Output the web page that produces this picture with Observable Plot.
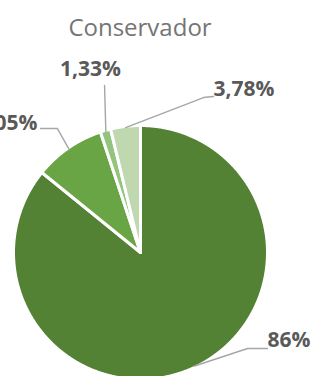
<!DOCTYPE html>
<html><head><meta charset="utf-8">
<script src="https://cdn.jsdelivr.net/npm/d3@7"></script>
<script src="https://cdn.jsdelivr.net/npm/@observablehq/plot@0.6"></script>
<style>
html,body{margin:0;padding:0;background:#fff;width:318px;height:376px;overflow:hidden;}
#title{box-sizing:border-box;height:44px;width:280px;padding-top:15px;line-height:23px;text-align:center;font-family:"Open Sans",sans-serif;font-size:24px;color:#757575;}
</style></head>
<body>
<div id="title">Conservador</div>
<div id="chart"></div>
<script>
// data
const categories = ["A", "B", "C", "D"];
const values = [85.84, 9.05, 1.33, 3.78];
const labels = ["86%", "9,05%", "1,33%", "3,78%"];
const colors = ["#548235", "#6aa545", "#93c47d", "#bfd8b0"];
// label layout (unit-circle coords): elbow, end, text position, anchor
const labelLayout = [
  {elbow: [0.843, -0.756], end: [1.0, -0.756], text: [1.0, -0.69], anchor: "start"},
  {elbow: [-0.654, 0.976], end: [-0.787, 0.976], text: [-0.811, 1.02], anchor: "end"},
  {elbow: [-0.283, 1.315], end: [-0.283, 1.315], text: [-0.394, 1.44], anchor: "middle"},
  {elbow: [0.496, 1.22], end: [0.575, 1.228], text: [0.575, 1.283], anchor: "start"}
];

const arcs = d3.pie().sort(null).startAngle(0).endAngle(2 * Math.PI)(values);
const slicePts = [];
arcs.forEach((a, i) => {
  slicePts.push({cat: categories[i], x: 0, y: 0});
  const n = Math.max(2, Math.ceil((a.endAngle - a.startAngle) / 0.005));
  for (let k = 0; k <= n; k++) {
    const t = a.startAngle + (a.endAngle - a.startAngle) * k / n;
    slicePts.push({cat: categories[i], x: Math.sin(t), y: Math.cos(t)});
  }
});
const leaderPts = [];
const labelRows = [];
arcs.forEach((a, i) => {
  const m = (a.startAngle + a.endAngle) / 2;
  const L = labelLayout[i];
  leaderPts.push({k: i, x: Math.sin(m) * 0.99, y: Math.cos(m) * 0.99});
  leaderPts.push({k: i, x: L.elbow[0], y: L.elbow[1]});
  leaderPts.push({k: i, x: L.end[0], y: L.end[1]});
  labelRows.push({text: labels[i], x: L.text[0], y: L.text[1], anchor: L.anchor});
});

const textMark = (anchor) => Plot.text(labelRows.filter(d => d.anchor === anchor), {
  x: "x", y: "y", text: "text", textAnchor: anchor, lineAnchor: "middle",
  fill: "#595959", fontSize: 21, fontWeight: "bold", fontFamily: "Open Sans"
});

const cy = 208;
const plot = Plot.plot({
  width: 318, height: 332,
  margin: 0,
  x: {domain: [-1, 1], range: [13, 267], axis: null},
  y: {domain: [-1, 1], range: [cy + 127, cy - 127], axis: null},
  color: {domain: categories, range: colors},
  style: {overflow: "visible", background: "white"},
  marks: [
    Plot.line(slicePts, {x: "x", y: "y", z: "cat", fill: "cat", stroke: "white", strokeWidth: 3, curve: "linear-closed", strokeLinejoin: "round"}),
    Plot.line(leaderPts, {x: "x", y: "y", z: "k", stroke: "#a6a6a6", strokeWidth: 1.4}),
    textMark("start"), textMark("end"), textMark("middle")
  ]
});
document.getElementById("chart").appendChild(plot);
</script>
</body></html>
